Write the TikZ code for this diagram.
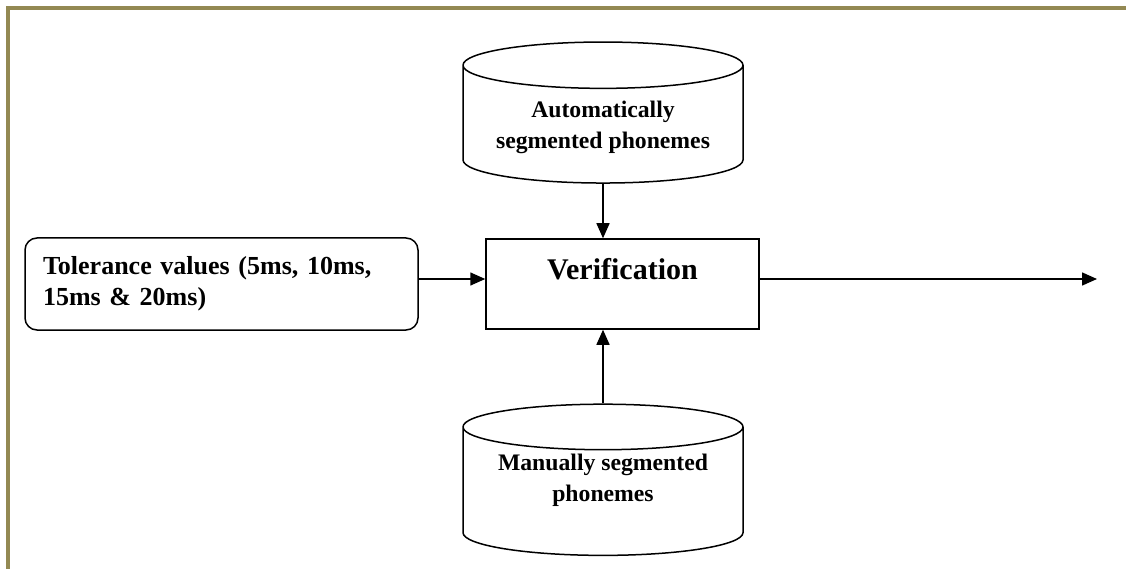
\documentclass[tikz,border=0pt]{standalone}
\usepackage{fontspec}
\setmainfont{Liberation Serif}
\usetikzlibrary{shapes.geometric}
\usetikzlibrary{positioning, arrows.meta}
\definecolor{frameolive}{RGB}{147,137,83}

\begin{document}
\begin{tikzpicture}[x=1pt, y=-1pt, line width=1.5pt, >={Triangle[length=15pt, width=13pt]}]
        % Define styles for shapes
        \tikzstyle{database} = [draw, cylinder, shape border rotate=90, aspect=0.21, minimum width=280pt, align=center, font=\fontsize{23.7}{31}\selectfont\bfseries]
        \tikzstyle{process} = [draw, minimum width=273pt, minimum height=90pt, text height=20pt, text depth=30pt, font=\fontsize{30}{36}\selectfont\bfseries]
        \tikzstyle{inputbox} = [draw, rounded corners=12pt, minimum height=92pt, text width=357pt, inner xsep=18pt, align=left, font=\fontsize{26}{31}\selectfont\bfseries]
        \useasboundingbox (0,0) rectangle (1126,569);
        % Page frame
        \draw[frameolive, line width=4pt] (8,569) -- (8,8) -- (1126,8);
        % Draw shapes
        \node[process] (verif) at (622.5, 284) {Verification};
        \node[inputbox] (tol) at (221.5, 284) {Tolerance values (5ms, 10ms,\\15ms \& 20ms)};
        \node[database, minimum height=141pt] (autoseg) at (603, 127) {Automatically\\segmented phonemes};
        \node[database, minimum height=150pt, text depth=33pt] (manseg) at (603, 494) {Manually segmented\\phonemes};
        \coordinate (result) at (1097, 279);

        % Draw arrows
        \draw[->] (autoseg.south) -- (autoseg.south |- verif.north);
        \draw[->] (manseg.north) -- (manseg.north |- verif.south);
        \draw[->] ([yshift=5pt]tol.east) -- ([yshift=5pt]tol.east -| verif.west);
        \draw[->] ([yshift=5pt]verif.east) -- (result);
    \end{tikzpicture}
\end{document}
